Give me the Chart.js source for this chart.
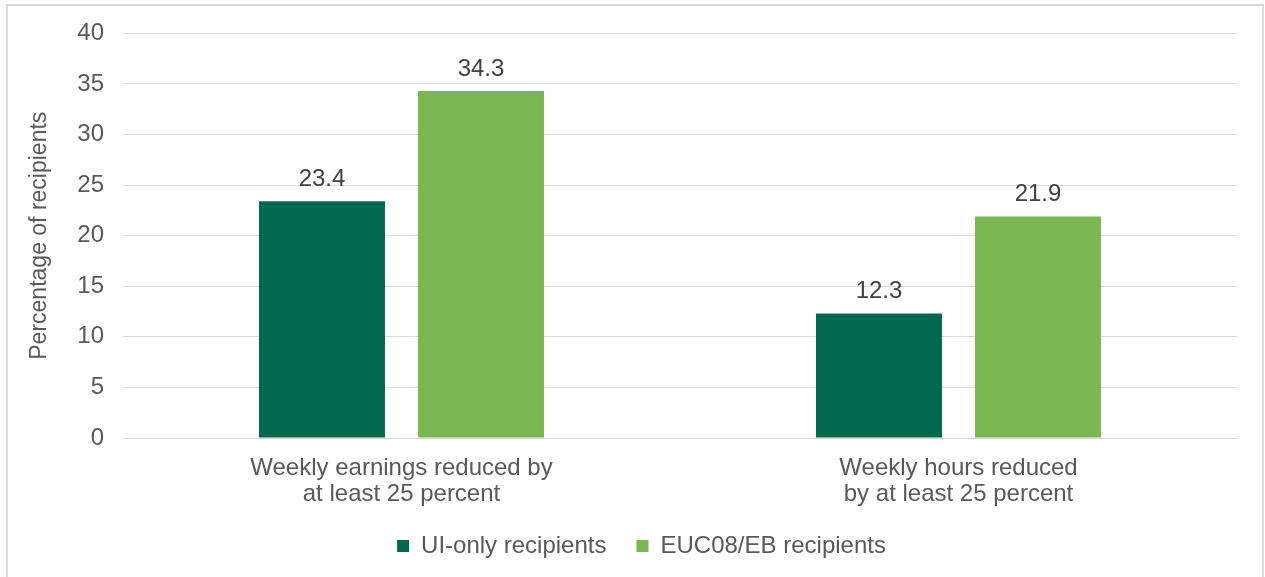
<!DOCTYPE html>
<html>
<head>
<meta charset="utf-8">
<script src="https://cdn.jsdelivr.net/npm/chart.js@4.4.1/dist/chart.umd.min.js"></script>
<style>
  html, body { margin: 0; padding: 0; background: #fff; }
  #wrap { width: 1265px; height: 577px; position: relative; }
</style>
</head>
<body>
<div id="wrap"><canvas id="chart" width="1265" height="577"></canvas></div>
<script>
// Data
const categories = [
    ['Weekly earnings reduced by', 'at least 25 percent'],
    ['Weekly hours reduced', 'by at least 25 percent']
];
const uiOnly = [23.4, 12.3];
const eucEb = [34.3, 21.9];
const seriesNames = ['UI-only recipients', 'EUC08/EB recipients'];

const FONT = "'Liberation Sans', Arial, sans-serif";
const GREY = '#595959';

// Draw value labels above bars
const valueLabels = {
    id: 'valueLabels',
    afterDatasetsDraw(chart) {
        const c = chart.ctx;
        c.save();
        c.font = '24px ' + FONT;
        c.fillStyle = '#404040';
        c.textAlign = 'center';
        c.textBaseline = 'bottom';
        chart.data.datasets.forEach((ds, i) => {
            chart.getDatasetMeta(i).data.forEach((bar, j) => {
                c.fillText(ds.data[j].toFixed(1), bar.x, bar.y - 10);
            });
        });
        c.restore();
    }
};

// Light frame round the whole chart
const frame = {
    id: 'frame',
    beforeDraw(chart) {
        const c = chart.ctx;
        c.save();
        c.fillStyle = '#fff';
        c.fillRect(0, 0, chart.width, chart.height);
        c.strokeStyle = '#d9d9d9';
        c.lineWidth = 2;
        c.strokeRect(7, 5, 1256, 575);
        c.restore();
    }
};

// Nudge the legend a little up and right, as in the original
const legendNudge = {
    id: 'legendNudge',
    afterLayout(chart) {
        const l = chart.legend;
        if (!l) return;
        l.top -= 6; l.bottom -= 6;
        l.left += 13; l.right += 13;
    }
};

const ctx = document.getElementById('chart').getContext('2d');
new Chart(ctx, {
    type: 'bar',
    data: {
        labels: categories,
        datasets: [{
            label: seriesNames[0],
            data: uiOnly,
            backgroundColor: '#00684C'
        }, {
            label: seriesNames[1],
            data: eucEb,
            backgroundColor: '#7AB752'
        }]
    },
    options: {
        responsive: false,
        animation: false,
        categoryPercentage: 0.571,
        barPercentage: 0.792,
        layout: {
            padding: { left: 20, right: 28, top: 33, bottom: 3 }
        },
        plugins: {
            legend: {
                position: 'bottom',
                labels: {
                    boxWidth: 12,
                    boxHeight: 12,
                    padding: 30,
                    color: GREY,
                    font: { family: FONT, size: 24 }
                }
            },
            tooltip: { enabled: false }
        },
        scales: {
            x: {
                grid: { display: false },
                border: { color: '#d9d9d9', width: 1 },
                ticks: {
                    color: GREY,
                    padding: 9,
                    font: { family: FONT, size: 24, lineHeight: 1.083 }
                },
                afterFit(scale) { scale.height = 72; }
            },
            y: {
                min: 0,
                max: 40,
                ticks: {
                    stepSize: 5,
                    color: GREY,
                    padding: 19,
                    font: { family: FONT, size: 24 }
                },
                grid: { color: '#d9d9d9', drawTicks: false },
                border: { display: false },
                title: {
                    display: true,
                    text: 'Percentage of recipients',
                    color: GREY,
                    font: { family: FONT, size: 23 },
                    padding: { top: 6, bottom: 10 }
                },
                afterFit(scale) { scale.width = 103; }
            }
        }
    },
    plugins: [frame, legendNudge, valueLabels]
});
</script>
</body>
</html>
